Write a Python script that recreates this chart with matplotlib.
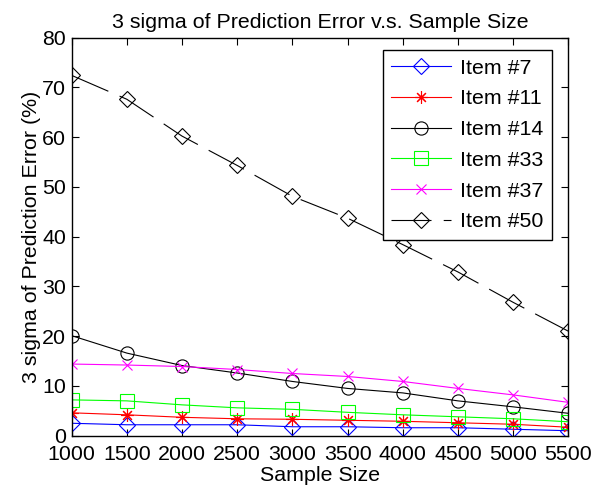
import numpy as np
import matplotlib as mpl
mpl.use('Agg')
import matplotlib.pyplot as plt

plt.rcParams['font.family'] = ['Liberation Sans', 'DejaVu Sans']

# sample sizes and 3-sigma errors (%) per item
sample_size = [1000, 1500, 2000, 2500, 3000, 3500, 4000, 4500, 5000, 5500]
item7 = [2.5, 2.2, 2.2, 2.2, 1.8, 1.8, 1.6, 1.6, 1.3, 1.0]
item11 = [4.6, 4.2, 3.7, 3.4, 3.3, 3.1, 2.9, 2.6, 2.3, 1.7]
item14 = [20.1, 16.6, 14.1, 12.6, 10.9, 9.5, 8.6, 7.0, 5.8, 4.5]
item33 = [7.2, 7.0, 6.2, 5.6, 5.3, 4.7, 4.2, 3.8, 3.4, 2.8]
item37 = [14.4, 14.2, 13.9, 13.3, 12.5, 11.9, 10.9, 9.5, 8.2, 6.7]
item50 = [72.4, 67.6, 60.2, 54.3, 48.1, 43.7, 38.4, 32.9, 26.8, 21.0]

fs = 15.4

fig = plt.figure(figsize=(5.92, 4.94), dpi=100)
ax = fig.add_axes([0.121, 0.118, 0.839, 0.806])

lw = 0.8
ax.plot(sample_size, item7, color='b', lw=lw, marker='D', ms=8.5,
        mfc='none', mec='b', mew=lw, label='Item #7')
ax.plot(sample_size, item11, color='r', lw=lw, marker=(8, 2, 0), ms=9,
        mec='r', mew=lw, label='Item #11')
ax.plot(sample_size, item14, color='k', lw=lw, marker='o', ms=9.5,
        mfc='none', mec='k', mew=lw, label='Item #14')
ax.plot(sample_size, item33, color=(0, 1, 0), lw=lw, marker='s', ms=9.5,
        mfc='none', mec=(0, 1, 0), mew=lw, label='Item #33')
ax.plot(sample_size, item37, color=(1, 0, 1), lw=lw, marker='x', ms=6.5,
        mec=(1, 0, 1), mew=lw, label='Item #37')
ax.plot(sample_size, item50, color='k', lw=lw, marker='D', ms=8.5,
        mfc='none', mec='k', mew=lw, linestyle=(0, (36, 11)), label='Item #50')

ax.set_xlim(1000, 5500)
ax.set_ylim(0, 80)
ax.set_xticks(np.arange(1000, 5501, 500))
ax.set_yticks(np.arange(0, 81, 10))
ax.tick_params(direction='in', length=5, width=0.8, top=True, right=True,
               labelsize=fs)
ax.tick_params(axis='x', pad=7)
ax.tick_params(axis='y', pad=4)
for sp in ax.spines.values():
    sp.set_linewidth(1.0)

ax.set_title('3 sigma of Prediction Error v.s. Sample Size', fontsize=fs, pad=7)
ax.set_xlabel('Sample Size', fontsize=fs, labelpad=1)
ax.set_ylabel('3 sigma of Prediction Error (%)', fontsize=fs, labelpad=1)

leg = ax.legend(loc='upper right', fontsize=fs, handlelength=2.8,
                handletextpad=0.4, labelspacing=0.55, borderpad=0.4,
                borderaxespad=0.45, fancybox=False, framealpha=1, edgecolor='k',
                bbox_to_anchor=(0.986, 0.993))
leg.get_frame().set_linewidth(1.0)

plt.savefig('out.png', dpi=100)
